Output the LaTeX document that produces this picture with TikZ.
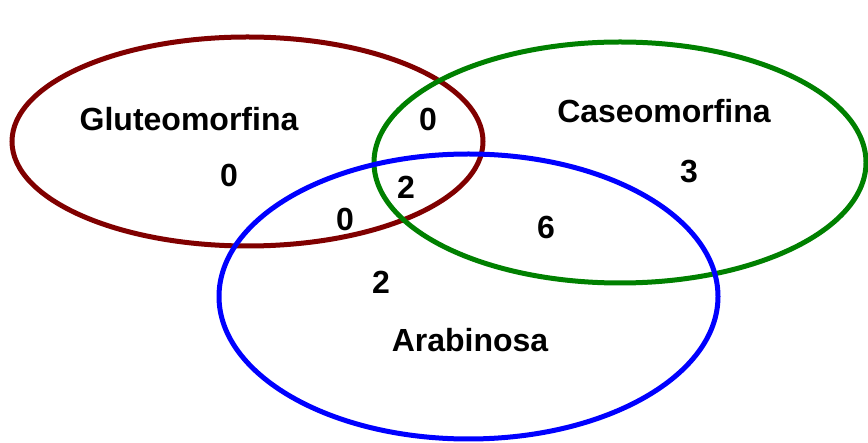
\documentclass[tikz,border=0pt]{standalone}
\usepackage{fontspec}
\setmainfont{Liberation Sans}
\definecolor{vred}{HTML}{800000}
\definecolor{vgreen}{HTML}{008000}
\definecolor{vblue}{HTML}{0000FF}
\begin{document}
\begin{tikzpicture}[x=1pt,y=-1pt,
  setline/.style={line width=5pt},
  lbl/.style={font=\fontsize{32}{37}\selectfont\bfseries, inner sep=0pt, text=black}]
\useasboundingbox (0,0) rectangle (868,443);
\draw[setline, vred] (247.5,141.5) ellipse [x radius=235.5, y radius=104.5];
\draw[setline, vgreen] (620,162.5) ellipse [x radius=246, y radius=120.5];
\draw[setline, vblue] (468.5,296.5) ellipse [x radius=249.5, y radius=142.5];
\node[lbl] (glu) at (189,119) {Gluteomorfina};
\node[lbl] (cas) at (664,111) {Caseomorfina};
\node[lbl] (ara) at (470,340) {Arabinosa};
\node[lbl] (n1) at (229,175) {0};
\node[lbl] (n2) at (428,119) {0};
\node[lbl] (n3) at (689,172) {3};
\node[lbl] (n4) at (406,187) {2};
\node[lbl] (n5) at (345,219) {0};
\node[lbl] (n6) at (546,227) {6};
\node[lbl] (n7) at (381,282) {2};
\end{tikzpicture}
\end{document}
